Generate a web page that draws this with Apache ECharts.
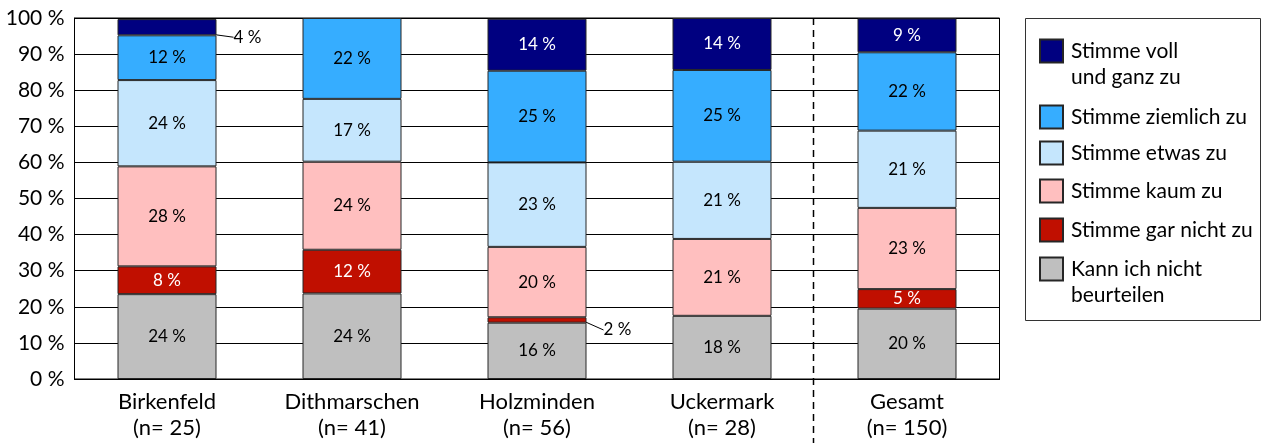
<!DOCTYPE html>
<html>
<head>
<meta charset="utf-8">
<script src="https://cdn.jsdelivr.net/npm/echarts@6/dist/echarts.min.js"></script>
<style>
  html, body { margin: 0; padding: 0; background: #fff; }
  #chart { width: 1266px; height: 443px; }
</style>
</head>
<body>
<div id="chart"></div>
<script>
const regions = ['Birkenfeld', 'Dithmarschen', 'Holzminden', 'Uckermark', 'Gesamt']
const sampleSizes = [25, 41, 56, 28, 150]

// Anteile in %, von unten nach oben gestapelt
const kannNicht = [23.5, 23.7, 15.6, 17.5, 19.5]
const garNicht = [7.7, 12.1, 1.5, 0, 5.4]
const kaum = [27.7, 24.4, 19.5, 21.3, 22.5]
const etwas = [23.9, 17.4, 23.4, 21.4, 21.4]
const ziemlich = [12.4, 22.4, 25.4, 25.4, 21.7]
const voll = [4.49, 0, 14.4, 14.4, 9.4]

const FONT = 'Lato'

const stackDefs = [
  { name: 'Kann ich nicht\nbeurteilen', values: kannNicht, color: '#bfbfbf', text: '#000' },
  { name: 'Stimme gar nicht zu', values: garNicht, color: '#c00f00', text: '#fff' },
  { name: 'Stimme kaum zu', values: kaum, color: '#ffbfbf', text: '#000' },
  { name: 'Stimme etwas zu', values: etwas, color: '#c5e6fd', text: '#000' },
  { name: 'Stimme ziemlich zu', values: ziemlich, color: '#36adff', text: '#000' },
  { name: 'Stimme voll\nund ganz zu', values: voll, color: '#000080', text: '#fff' }
]

// icon centre (y) of each legend row, top to bottom
const legendCentres = [51, 117, 153, 191, 230, 269]

const chart = echarts.init(document.getElementById('chart'))

const series = stackDefs.map(def => ({
  name: def.name,
  type: 'bar',
  stack: 'total',
  barWidth: 99,
  itemStyle: { color: def.color, borderColor: '#262626', borderWidth: 1 },
  label: {
    show: true,
    position: 'inside',
    color: def.text,
    fontFamily: FONT,
    fontSize: 17,
    formatter: p => Math.round(p.value) + ' %'
  },
  labelLine: { lineStyle: { color: '#000', width: 1 } },
  data: def.values.map(v => {
    if (!v) return '-'
    if (v < 5) {
      // small share: label outside with a leader line
      return {
        value: v,
        label: { position: 'right', distance: 17, offset: [0, 10], color: '#000' },
        labelLine: { show: true, lineStyle: { color: '#000', width: 1 } }
      }
    }
    return v
  })
}))

// one legend per row, so two-line entries keep the box next to their first line
const legends = stackDefs.slice().reverse().map((def, i) => {
  const twoLines = def.name.includes('\n')
  return {
    data: [def.name],
    left: 1039,
    top: legendCentres[i] - (twoLines ? 39 : 13),
    orient: 'vertical',
    padding: 0,
    icon: 'rect',
    itemWidth: 23,
    itemHeight: 23,
    selectedMode: false,
    formatter: name => (twoLines ? ' \n' + name : name),
    textStyle: { fontFamily: FONT, fontSize: 21, color: '#000', lineHeight: 26, padding: [0, 0, 0, 3] }
  }
})

chart.setOption({
  animation: false,
  grid: {
    left: 74.5,
    top: 18,
    width: 925,
    bottom: 64,
    show: true,
    borderColor: '#000',
    borderWidth: 1,
    backgroundColor: '#fff'
  },
  legend: legends,
  xAxis: {
    type: 'category',
    data: regions.map((r, i) => r + '\n(n= ' + sampleSizes[i] + ')'),
    axisTick: { show: false },
    axisLine: { lineStyle: { color: '#000', width: 1 } },
    axisLabel: {
      color: '#000',
      fontFamily: FONT,
      fontSize: 22,
      lineHeight: 26,
      margin: 10
    }
  },
  yAxis: {
    type: 'value',
    min: 0,
    max: 100,
    interval: 10,
    axisLine: { show: true, lineStyle: { color: '#000', width: 1 } },
    axisTick: { show: false },
    splitLine: { lineStyle: { color: '#000', width: 1 } },
    axisLabel: {
      color: '#000',
      fontFamily: FONT,
      fontSize: 21,
      margin: 10,
      formatter: '{value} %'
    }
  },
  series: series
})

// dashed separator between the regions and the total
const last = regions.length - 1
const xLast = chart.convertToPixel({ xAxisIndex: 0 }, last)
const xPrev = chart.convertToPixel({ xAxisIndex: 0 }, last - 1)
const sepX = Math.floor((xLast + xPrev) / 2) - 0.5

chart.setOption({
  graphic: [
    {
      id: 'legendFrame',
      type: 'rect',
      shape: { x: 1025.5, y: 18.5, width: 235, height: 302 },
      style: { fill: 'none', stroke: '#333', lineWidth: 1 },
      silent: true
    },
    {
      id: 'separator',
      type: 'line',
      shape: { x1: sepX, y1: 18, x2: sepX, y2: 443 },
      style: { stroke: '#000', lineWidth: 1.5, lineDash: [7, 5] },
      silent: true,
      z: 10
    }
  ]
})

window.addEventListener('resize', () => {
  chart.resize()
})
</script>
</body>
</html>
